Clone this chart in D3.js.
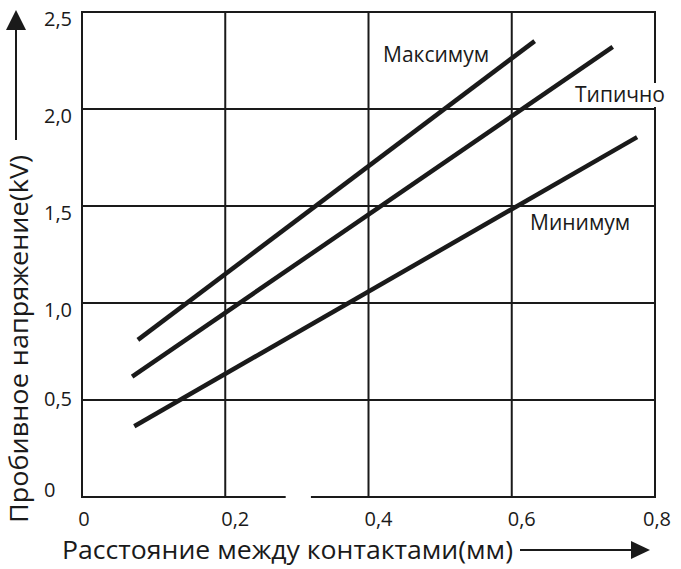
<!DOCTYPE html>
<html><head><meta charset="utf-8">
<script src="https://cdn.jsdelivr.net/npm/d3@7"></script>
<style>body{margin:0;background:#fff;} svg{display:block;} text{font-family:"Open Sans",sans-serif;fill:#1a1a1a;}</style>
</head><body><svg id="c" width="681" height="569"></svg>
<script>
// Data
const xTicks = [0, 0.2, 0.4, 0.6, 0.8];
const xTickLabels = ["0", "0,2", "0,4", "0,6", "0,8"];
const yTicks = [0, 0.5, 1.0, 1.5, 2.0, 2.5];
const yTickLabels = ["0", "0,5", "1,0", "1,5", "2,0", "2,5"];
const seriesNames = ["Максимум", "Типично", "Минимум"];
const maxLine = [[0.078, 0.81], [0.632, 2.35]];
const typLine = [[0.070, 0.62], [0.741, 2.32]];
const minLine = [[0.073, 0.365], [0.775, 1.855]];
const axisBreak = [0.283, 0.321];
const xTitle = "Расстояние между контактами(мм)";
const yTitle = "Пробивное напряжение(kV)";

const svg = d3.select("#c");
const L = 82, R = 655, T = 12, B = 497;
const x = d3.scaleLinear().domain([0, 0.8]).range([L, R]);
const y = d3.scaleLinear().domain([0, 2.5]).range([B, T]);
const ink = "#1a1a1a";

// grid verticals
svg.append("g").selectAll("line").data(xTicks).join("line")
  .attr("x1", d => x(d)).attr("x2", d => x(d)).attr("y1", y(0)).attr("y2", y(2.5))
  .attr("stroke", ink).attr("stroke-width", 2);
// grid horizontals (except bottom)
svg.append("g").selectAll("line").data(yTicks.filter(d => d > 0)).join("line")
  .attr("x1", x(0) - 1).attr("x2", x(0.8) + 1).attr("y1", d => y(d)).attr("y2", d => y(d))
  .attr("stroke", ink).attr("stroke-width", 2);
// bottom axis with break
[[0, axisBreak[0]], [axisBreak[1], 0.8]].forEach(s => {
  svg.append("line").attr("x1", x(s[0]) - 1).attr("x2", x(s[1]) + 1)
    .attr("y1", y(0)).attr("y2", y(0)).attr("stroke", ink).attr("stroke-width", 2);
});

// data lines
const line = d3.line().x(d => x(d[0])).y(d => y(d[1]));
[maxLine, typLine, minLine].forEach(s => {
  svg.append("path").attr("d", line(s)).attr("fill", "none")
    .attr("stroke", ink).attr("stroke-width", 4.5);
});

// tick labels
svg.append("g").selectAll("text").data(yTicks).join("text")
  .attr("x", 44).attr("y", d => y(d))
  .attr("dy", d => d >= 1 ? "0.72em" : (d > 0 ? "0.3em" : "0.02em"))
  .attr("font-size", 20).text((d, i) => yTickLabels[i]);
svg.append("g").selectAll("text").data(xTicks).join("text")
  .attr("x", (d, i) => x(d) + (i === 0 || i === xTicks.length - 1 ? 2 : 10))
  .attr("y", 526).attr("text-anchor", "middle")
  .attr("font-size", 20).text((d, i) => xTickLabels[i]);

// series labels
function label(txt, px, py, bg) {
  const t = svg.append("text").attr("x", px).attr("y", py).attr("font-size", 21).text(txt);
  if (bg) {
    const b = t.node().getBBox();
    svg.insert("rect", () => t.node()).attr("x", b.x - 1).attr("y", b.y + 3).attr("width", b.width + 2)
      .attr("height", b.height - 4).attr("fill", "#fff");
  }
}
label(seriesNames[0], 383, 62, false);
label(seriesNames[1], 575, 102, true);
label(seriesNames[2], 530, 230, false);

// axis titles
svg.append("text").attr("x", 62).attr("y", 559)
  .attr("font-size", 25).attr("textLength", 451).attr("lengthAdjust", "spacingAndGlyphs").text(xTitle);
svg.append("text").attr("transform", "translate(28,523) rotate(-90)")
  .attr("font-size", 26).attr("textLength", 368).attr("lengthAdjust", "spacingAndGlyphs").text(yTitle);

// arrows
svg.append("line").attr("x1", 16).attr("x2", 16).attr("y1", 140).attr("y2", 26)
  .attr("stroke", ink).attr("stroke-width", 2);
svg.append("path").attr("d", "M16,10 L26,30 L6,30 Z").attr("fill", ink);
svg.append("line").attr("x1", 520).attr("x2", 634).attr("y1", 550).attr("y2", 550)
  .attr("stroke", ink).attr("stroke-width", 2);
svg.append("path").attr("d", "M650,550 L631,541 L631,559 Z").attr("fill", ink);
</script></body></html>
